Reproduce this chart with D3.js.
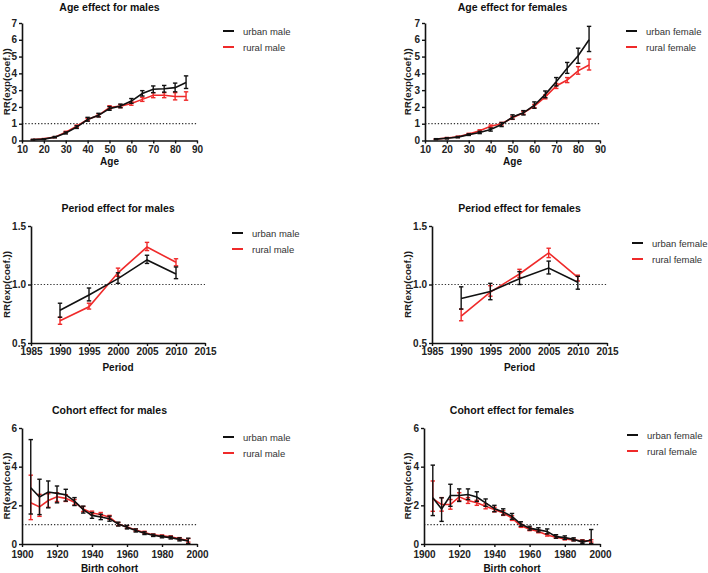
<!DOCTYPE html>
<html>
<head>
<meta charset="utf-8">
<script src="https://cdn.jsdelivr.net/npm/d3@7"></script>
<style>
  body { margin: 0; background: #fff; }
  svg { font-family: "Liberation Sans", Arial, sans-serif; }
  .tick text { font-size: 10px; font-weight: bold; fill: #222; }
</style>
</head>
<body>
<div id="chart"></div>
<script>
// ---- data ----
var ages = [15, 20, 25, 30, 35, 40, 45, 50, 55, 60, 65, 70, 75, 80, 85];
var periods = [1990, 1995, 2000, 2005, 2010];
var cohorts = [1905, 1910, 1915, 1920, 1925, 1930, 1935, 1940, 1945, 1950,
               1955, 1960, 1965, 1970, 1975, 1980, 1985, 1990, 1995];

// age effect, males
var ageMaleUrban   = [0.05, 0.08, 0.2, 0.45, 0.8, 1.25, 1.5, 1.9, 2.05, 2.35, 2.8, 3.05, 3.08, 3.15, 3.45];
var ageMaleUrbanLo = [0.03, 0.06, 0.16, 0.39, 0.72, 1.15, 1.4, 1.8, 1.95, 2.22, 2.65, 2.85, 2.88, 2.9, 3.1];
var ageMaleUrbanHi = [0.07, 0.1, 0.24, 0.51, 0.88, 1.38, 1.62, 2.02, 2.17, 2.5, 2.97, 3.25, 3.28, 3.42, 3.85];
var ageMaleRural   = [0.05, 0.1, 0.2, 0.5, 0.85, 1.25, 1.5, 1.97, 2.05, 2.2, 2.45, 2.7, 2.7, 2.62, 2.62];
var ageMaleRuralLo = [0.04, 0.08, 0.17, 0.45, 0.78, 1.18, 1.42, 1.87, 1.96, 2.1, 2.33, 2.55, 2.55, 2.42, 2.4];
var ageMaleRuralHi = [0.06, 0.12, 0.23, 0.55, 0.92, 1.32, 1.58, 2.07, 2.14, 2.3, 2.57, 2.85, 2.85, 2.85, 2.9];

// age effect, females
var ageFemUrban   = [0.08, 0.13, 0.2, 0.35, 0.48, 0.65, 0.95, 1.4, 1.65, 2.1, 2.75, 3.5, 4.3, 5.05, 6.0];
var ageFemUrbanLo = [0.05, 0.09, 0.16, 0.3, 0.41, 0.56, 0.83, 1.27, 1.52, 1.92, 2.55, 3.25, 4.0, 4.6, 5.3];
var ageFemUrbanHi = [0.11, 0.17, 0.24, 0.4, 0.55, 0.74, 1.07, 1.53, 1.78, 2.3, 2.95, 3.75, 4.65, 5.5, 6.8];
var ageFemRural   = [0.08, 0.15, 0.22, 0.38, 0.58, 0.85, 1.0, 1.35, 1.65, 2.05, 2.6, 3.25, 3.6, 4.15, 4.5];
var ageFemRuralLo = [0.06, 0.12, 0.18, 0.33, 0.52, 0.78, 0.92, 1.26, 1.56, 1.95, 2.48, 3.1, 3.45, 3.95, 4.2];
var ageFemRuralHi = [0.1, 0.18, 0.26, 0.43, 0.64, 0.92, 1.08, 1.44, 1.74, 2.15, 2.72, 3.4, 3.75, 4.4, 4.85];

// period effect
var perMaleUrban   = [0.78, 0.91, 1.05, 1.21, 1.09];
var perMaleUrbanLo = [0.72, 0.86, 1.01, 1.18, 1.05];
var perMaleUrbanHi = [0.84, 0.97, 1.1, 1.25, 1.15];
var perMaleRural   = [0.69, 0.81, 1.1, 1.32, 1.19];
var perMaleRuralLo = [0.66, 0.79, 1.07, 1.29, 1.16];
var perMaleRuralHi = [0.72, 0.84, 1.14, 1.36, 1.22];
var perFemUrban   = [0.88, 0.94, 1.05, 1.14, 1.02];
var perFemUrbanLo = [0.79, 0.87, 1.0, 1.09, 0.96];
var perFemUrbanHi = [0.98, 1.01, 1.11, 1.2, 1.07];
var perFemRural   = [0.73, 0.935, 1.09, 1.27, 1.06];
var perFemRuralLo = [0.69, 0.9, 1.06, 1.23, 1.03];
var perFemRuralHi = [0.79, 0.99, 1.13, 1.31, 1.08];

// cohort effect
var cohMaleUrban   = [2.91, 2.43, 2.69, 2.62, 2.55, 2.22, 1.78, 1.48, 1.4, 1.31, 1.03, 0.87, 0.7, 0.56, 0.45, 0.38, 0.33, 0.24, 0.16];
var cohMaleUrbanLo = [1.55, 1.52, 1.87, 2.13, 2.22, 1.99, 1.6, 1.33, 1.26, 1.18, 0.93, 0.78, 0.62, 0.49, 0.39, 0.32, 0.26, 0.16, 0.02];
var cohMaleUrbanHi = [5.4, 3.35, 3.26, 3.0, 2.83, 2.4, 1.96, 1.63, 1.54, 1.44, 1.13, 0.96, 0.78, 0.63, 0.51, 0.44, 0.4, 0.32, 0.3];
var cohMaleRural   = [2.13, 1.92, 2.25, 2.44, 2.36, 2.16, 1.81, 1.6, 1.53, 1.38, 1.03, 0.88, 0.72, 0.6, 0.47, 0.42, 0.37, 0.27, 0.18];
var cohMaleRuralLo = [1.26, 1.43, 1.9, 2.2, 2.2, 2.02, 1.68, 1.5, 1.43, 1.28, 0.95, 0.81, 0.66, 0.54, 0.42, 0.37, 0.32, 0.21, 0.1];
var cohMaleRuralHi = [3.56, 2.57, 2.6, 2.65, 2.55, 2.3, 1.94, 1.7, 1.63, 1.48, 1.11, 0.95, 0.78, 0.66, 0.52, 0.47, 0.42, 0.33, 0.28];
var cohFemUrban   = [2.39, 1.81, 2.51, 2.51, 2.56, 2.43, 2.13, 1.83, 1.66, 1.43, 1.03, 0.82, 0.73, 0.65, 0.38, 0.33, 0.24, 0.1, 0.21];
var cohFemUrbanLo = [1.47, 1.17, 1.95, 2.2, 2.3, 2.2, 1.95, 1.67, 1.5, 1.28, 0.92, 0.72, 0.62, 0.52, 0.3, 0.24, 0.16, 0.03, 0.02];
var cohFemUrbanHi = [4.08, 2.39, 3.09, 2.85, 2.85, 2.7, 2.33, 2.0, 1.82, 1.58, 1.15, 0.92, 0.84, 0.78, 0.48, 0.42, 0.32, 0.2, 0.75];
var cohFemRural   = [2.34, 2.04, 2.04, 2.44, 2.25, 2.13, 1.95, 1.78, 1.6, 1.34, 0.94, 0.77, 0.65, 0.47, 0.35, 0.26, 0.21, 0.17, 0.16];
var cohFemRuralLo = [1.69, 1.7, 1.8, 2.25, 2.1, 2.0, 1.82, 1.66, 1.48, 1.22, 0.86, 0.69, 0.58, 0.41, 0.3, 0.21, 0.17, 0.12, 0.1];
var cohFemRuralHi = [3.26, 2.4, 2.3, 2.65, 2.4, 2.26, 2.08, 1.9, 1.72, 1.46, 1.02, 0.85, 0.72, 0.53, 0.4, 0.31, 0.26, 0.22, 0.22];

// tick labels
var ageXTicks = [10, 20, 30, 40, 50, 60, 70, 80, 90];
var ageYTicks = [0, 1, 2, 3, 4, 5, 6, 7];
var perXTicks = [1985, 1990, 1995, 2000, 2005, 2010, 2015];
var perYTicks = [0.5, 1.0, 1.5];
var cohXTicks = [1900, 1920, 1940, 1960, 1980, 2000];
var cohYTicks = [0, 2, 4, 6];

var width = 708, height = 573;
var RED = "#ef2a2a", BLACK = "#111";

var svg = d3.select("#chart").append("svg")
  .attr("width", width)
  .attr("height", height);

// one panel: axes box in page pixels, then the two series
function drawPanel(p) {
  var x = d3.scaleLinear().domain(p.xDomain).range([p.x0, p.x1]);
  var y = d3.scaleLinear().domain(p.yDomain).range([p.yBot, p.yTop]);
  var g = svg.append("g");

  // dotted reference line at RR = 1
  g.append("line")
    .attr("x1", p.x0).attr("x2", p.x1)
    .attr("y1", y(1)).attr("y2", y(1))
    .attr("stroke", "#333")
    .attr("stroke-width", 1.2)
    .attr("stroke-dasharray", "1.3,1.9");

  // series: rural first so urban (black) sits on top
  var series = [
    { v: p.rural, lo: p.ruralLo, hi: p.ruralHi, color: RED },
    { v: p.urban, lo: p.urbanLo, hi: p.urbanHi, color: BLACK }
  ];
  series.forEach(function (s) {
    var pts = p.xs.map(function (d, i) { return { x: d, v: s.v[i], lo: s.lo[i], hi: s.hi[i] }; });
    g.append("path")
      .datum(pts)
      .attr("fill", "none")
      .attr("stroke", s.color)
      .attr("stroke-width", 1.6)
      .attr("d", d3.line().x(function (d) { return x(d.x); }).y(function (d) { return y(d.v); }));
    var eb = g.append("g").attr("stroke", s.color).attr("stroke-width", 1.4);
    pts.forEach(function (d) {
      eb.append("line").attr("x1", x(d.x)).attr("x2", x(d.x)).attr("y1", y(d.lo)).attr("y2", y(d.hi));
      eb.append("line").attr("x1", x(d.x) - 2.2).attr("x2", x(d.x) + 2.2).attr("y1", y(d.lo)).attr("y2", y(d.lo));
      eb.append("line").attr("x1", x(d.x) - 2.2).attr("x2", x(d.x) + 2.2).attr("y1", y(d.hi)).attr("y2", y(d.hi));
    });
  });

  // axes
  var xAxis = g.append("g")
    .attr("transform", "translate(0," + p.yBot + ")")
    .call(d3.axisBottom(x).tickValues(p.xTicks).tickSize(3).tickSizeOuter(0).tickPadding(p.xPad || 2).tickFormat(d3.format("d")));
  var yAxis = g.append("g")
    .attr("transform", "translate(" + p.x0 + ",0)")
    .call(d3.axisLeft(y).tickValues(p.yTicks).tickSize(3).tickSizeOuter(0).tickPadding(2).tickFormat(p.yFormat));
  [xAxis, yAxis].forEach(function (a) {
    a.select(".domain").attr("stroke", "#111").attr("stroke-width", 1.6);
    a.selectAll(".tick line").attr("stroke", "#111").attr("stroke-width", 1.4);
  });

  // title and axis labels
  g.append("text")
    .attr("x", (p.x0 + p.x1) / 2).attr("y", p.titleY)
    .attr("text-anchor", "middle")
    .attr("font-size", 10.5).attr("font-weight", "bold").attr("fill", "#111")
    .text(p.title);
  g.append("text")
    .attr("x", (p.x0 + p.x1) / 2).attr("y", p.xLabelY)
    .attr("text-anchor", "middle")
    .attr("font-size", 10).attr("font-weight", "bold").attr("fill", "#111")
    .text(p.xLabel);
  g.append("text")
    .attr("transform", "translate(" + p.yLabelX + "," + ((p.yTop + p.yBot) / 2) + ")rotate(-90)")
    .attr("text-anchor", "middle")
    .attr("font-size", 9.8).attr("font-weight", "bold").attr("fill", "#1a1a1a")
    .text("RR(exp(coef.))");

  // legend
  var leg = [{ name: p.legend[0], color: BLACK }, { name: p.legend[1], color: RED }];
  leg.forEach(function (l, i) {
    var ly = p.legY + i * 16;
    g.append("line")
      .attr("x1", p.legX).attr("x2", p.legX + 11)
      .attr("y1", ly).attr("y2", ly)
      .attr("stroke", l.color).attr("stroke-width", 2);
    g.append("text")
      .attr("x", p.legX + 20).attr("y", ly + 3.5)
      .attr("font-size", 9.5).attr("fill", "#333")
      .text(l.name);
  });
}

var fmtInt = d3.format("d"), fmt1 = d3.format(".1f");

drawPanel({ x0: 22, x1: 197, yTop: 23, yBot: 140.5, xDomain: [10, 90], yDomain: [0, 7],
  xs: ages, urban: ageMaleUrban, urbanLo: ageMaleUrbanLo, urbanHi: ageMaleUrbanHi,
  rural: ageMaleRural, ruralLo: ageMaleRuralLo, ruralHi: ageMaleRuralHi,
  xTicks: ageXTicks, yTicks: ageYTicks, yFormat: fmtInt,
  title: "Age effect for males", titleY: 11, xLabel: "Age", xLabelY: 165, yLabelX: 10,
  legend: ["urban male", "rural male"], legX: 223, legY: 31 });

drawPanel({ x0: 425, x1: 600, yTop: 23, yBot: 140.5, xDomain: [10, 90], yDomain: [0, 7],
  xs: ages, urban: ageFemUrban, urbanLo: ageFemUrbanLo, urbanHi: ageFemUrbanHi,
  rural: ageFemRural, ruralLo: ageFemRuralLo, ruralHi: ageFemRuralHi,
  xTicks: ageXTicks, yTicks: ageYTicks, yFormat: fmtInt,
  title: "Age effect for females", titleY: 11, xLabel: "Age", xLabelY: 165, yLabelX: 411,
  legend: ["urban female", "rural female"], legX: 626, legY: 31 });

drawPanel({ x0: 31, x1: 205, yTop: 226, yBot: 343, xDomain: [1985, 2015], yDomain: [0.5, 1.5],
  xs: periods, urban: perMaleUrban, urbanLo: perMaleUrbanLo, urbanHi: perMaleUrbanHi,
  rural: perMaleRural, ruralLo: perMaleRuralLo, ruralHi: perMaleRuralHi,
  xTicks: perXTicks, yTicks: perYTicks, yFormat: fmt1,
  title: "Period effect for males", titleY: 212, xLabel: "Period", xLabelY: 371, yLabelX: 10,
  legend: ["urban male", "rural male"], legX: 232, legY: 233 });

drawPanel({ x0: 432, x1: 607, yTop: 226, yBot: 343, xDomain: [1985, 2015], yDomain: [0.5, 1.5],
  xs: periods, urban: perFemUrban, urbanLo: perFemUrbanLo, urbanHi: perFemUrbanHi,
  rural: perFemRural, ruralLo: perFemRuralLo, ruralHi: perFemRuralHi,
  xTicks: perXTicks, yTicks: perYTicks, yFormat: fmt1,
  title: "Period effect for females", titleY: 212, xLabel: "Period", xLabelY: 371, yLabelX: 411,
  legend: ["urban female", "rural female"], legX: 632, legY: 243 });

drawPanel({ x0: 22, x1: 197, yTop: 428, yBot: 544, xDomain: [1900, 2000], yDomain: [0, 6],
  xs: cohorts, urban: cohMaleUrban, urbanLo: cohMaleUrbanLo, urbanHi: cohMaleUrbanHi,
  rural: cohMaleRural, ruralLo: cohMaleRuralLo, ruralHi: cohMaleRuralHi,
  xTicks: cohXTicks, yTicks: cohYTicks, yFormat: fmtInt, xPad: 4,
  title: "Cohort effect for males", titleY: 414, xLabel: "Birth cohort", xLabelY: 572, yLabelX: 10,
  legend: ["urban male", "rural male"], legX: 223, legY: 437 });

drawPanel({ x0: 424, x1: 600, yTop: 428, yBot: 544, xDomain: [1900, 2000], yDomain: [0, 6],
  xs: cohorts, urban: cohFemUrban, urbanLo: cohFemUrbanLo, urbanHi: cohFemUrbanHi,
  rural: cohFemRural, ruralLo: cohFemRuralLo, ruralHi: cohFemRuralHi,
  xTicks: cohXTicks, yTicks: cohYTicks, yFormat: fmtInt, xPad: 4,
  title: "Cohort effect for females", titleY: 414, xLabel: "Birth cohort", xLabelY: 572, yLabelX: 411,
  legend: ["urban female", "rural female"], legX: 627, legY: 435 });
</script>
</body>
</html>
